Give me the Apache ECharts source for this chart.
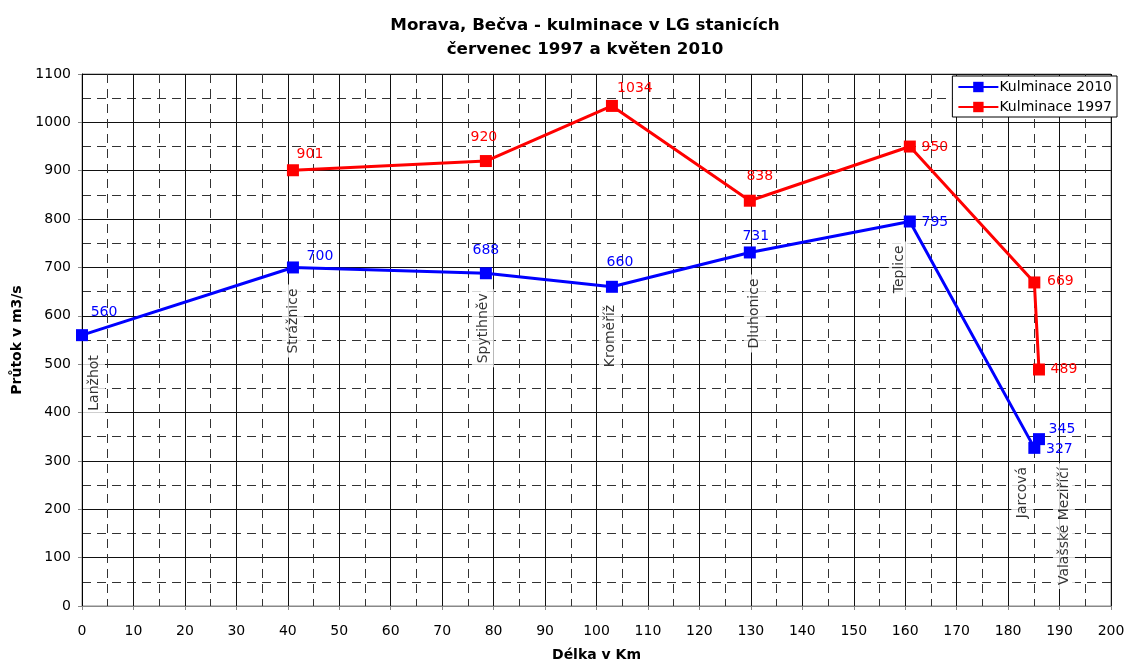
<!DOCTYPE html>
<html>
<head>
<meta charset="utf-8">
<script src="https://cdn.jsdelivr.net/npm/echarts@6/dist/echarts.min.js"></script>
<style>html,body{margin:0;padding:0;background:#fff;}#c{width:1134px;height:664px;}</style>
</head>
<body>
<div id="c"></div>
<script>
// ---- data ----
var stations = ['Lanžhot', 'Strážnice', 'Spytihněv', 'Kroměříž', 'Dluhonice', 'Teplice', 'Jarcová', 'Valašské Meziříčí'];
var stationKm = [0, 41, 78.5, 103, 129.8, 160.9, 185.1, 186];
var kulminace2010 = [560, 700, 688, 660, 731, 795, 327, 345];
var kulminace1997 = [null, 901, 920, 1034, 838, 950, 669, 489];
var xTicks = [0, 200, 10];
var yTicks = [0, 1100, 100];

// ---- styles (label offsets in px, screen dx/dy) ----
var blueLabelOffsets = [[22,-23],[27,-11],[0,-23],[8,-24],[6,-16],[25,1],[25,2],[23,-10]];
var redLabelOffsets  = [null,[17,-16],[-2,-24],[23,-18],[10,-24],[25,1],[26,-1],[25,0]];
var stationLabelOffsets = [[12,16],[0,17],[-3,16],[-2,14],[5,22],[-10,20],[-12,15],[25,24]];

var FONT = '"DejaVu Sans", sans-serif';

function seriesData(values, offsets) {
  var out = [];
  for (var i = 0; i < values.length; i++) {
    if (values[i] == null) continue;
    out.push({
      value: [stationKm[i], values[i]],
      label: { offset: offsets[i] }
    });
  }
  return out;
}

// rotated (90deg) labels take their offset in the rotated frame
var stationData = stations.map(function (s, i) {
  var o = stationLabelOffsets[i];
  return {
    name: s,
    value: [stationKm[i], kulminace2010[i]],
    label: { offset: [-o[1], o[0]] }
  };
});

var chart = echarts.init(document.getElementById('c'), null, { renderer: 'canvas' });

var option = {
  backgroundColor: '#fff',
  animation: false,
  title: {
    text: 'Morava, Bečva - kulminace v LG stanicích\nčervenec 1997 a květen 2010',
    left: 580,
    textAlign: 'center',
    top: 9,
    textStyle: { fontFamily: FONT, fontSize: 16.7, fontWeight: 'bold', color: '#000', lineHeight: 24 }
  },
  legend: {
    right: 17,
    top: 76,
    orient: 'vertical',
    backgroundColor: '#fff',
    borderColor: '#000',
    borderWidth: 1,
    padding: [4, 5, 3, 5],
    itemGap: 6,
    itemWidth: 40,
    itemHeight: 13,
    textStyle: { fontFamily: FONT, fontSize: 14, color: '#000', padding: [0, 0, 0, -4] },
    data: ['Kulminace 2010', 'Kulminace 1997']
  },
  grid: {
    left: 82, right: 23, top: 74, bottom: 58,
    containLabel: false,
    outerBoundsMode: 'none',
    show: true, borderColor: '#888', borderWidth: 1, backgroundColor: 'transparent'
  },
  xAxis: {
    type: 'value',
    min: xTicks[0], max: xTicks[1], interval: xTicks[2],
    name: 'Délka v Km',
    nameLocation: 'middle',
    nameGap: 42,
    nameTextStyle: { fontFamily: FONT, fontSize: 14, fontWeight: 'bold', color: '#000' },
    axisLine: { show: true, lineStyle: { color: '#888', width: 1 } },
    axisTick: { show: true, length: 4, lineStyle: { color: '#888' } },
    axisLabel: { fontFamily: FONT, fontSize: 14, color: '#000', margin: 18 },
    splitLine: { show: true, lineStyle: { color: '#111', width: 1 } },
    minorTick: { show: false, splitNumber: 2 },
    minorSplitLine: { show: true, lineStyle: { color: '#333', width: 1, type: [9, 6] } }
  },
  yAxis: {
    type: 'value',
    min: yTicks[0], max: yTicks[1], interval: yTicks[2],
    name: 'Průtok v m3/s',
    nameLocation: 'middle',
    nameGap: 58,
    nameTextStyle: { fontFamily: FONT, fontSize: 14, fontWeight: 'bold', color: '#000' },
    axisLine: { show: true, lineStyle: { color: '#000', width: 1 } },
    axisTick: { show: true, length: 4, lineStyle: { color: '#888' } },
    axisLabel: { fontFamily: FONT, fontSize: 14, color: '#000', margin: 11, formatter: function (v) { return String(v); } },
    splitLine: { show: true, lineStyle: { color: '#111', width: 1 } },
    minorTick: { show: false, splitNumber: 2 },
    minorSplitLine: { show: true, lineStyle: { color: '#333', width: 1, type: [9, 6] } }
  },
  series: [
    {
      name: 'stations',
      type: 'scatter',
      symbolSize: 0,
      z: 1,
      silent: true,
      data: stationData,
      label: {
        show: true,
        position: 'inside',
        rotate: 90,
        align: 'right',
        verticalAlign: 'middle',
        formatter: '{b}',
        fontFamily: FONT,
        fontSize: 14,
        color: '#000',
        backgroundColor: '#fff',
        padding: [4, 4, 4, 4]
      }
    },
    {
      name: 'Kulminace 2010',
      type: 'line',
      z: 3,
      color: '#0000ff',
      symbol: 'rect',
      symbolSize: 12,
      lineStyle: { width: 3, color: '#0000ff' },
      itemStyle: { color: '#0000ff' },
      data: seriesData(kulminace2010, blueLabelOffsets),
      label: {
        show: true, position: 'inside',
        formatter: function (p) { return p.value[1]; },
        fontFamily: FONT, fontSize: 14, color: '#0000ff'
      }
    },
    {
      name: 'Kulminace 1997',
      type: 'line',
      z: 3,
      color: '#ff0000',
      symbol: 'rect',
      symbolSize: 12,
      lineStyle: { width: 3, color: '#ff0000' },
      itemStyle: { color: '#ff0000' },
      data: seriesData(kulminace1997, redLabelOffsets),
      label: {
        show: true, position: 'inside',
        formatter: function (p) { return p.value[1]; },
        fontFamily: FONT, fontSize: 14, color: '#ff0000'
      }
    }
  ]
};
chart.setOption(option);
</script>
</body>
</html>
